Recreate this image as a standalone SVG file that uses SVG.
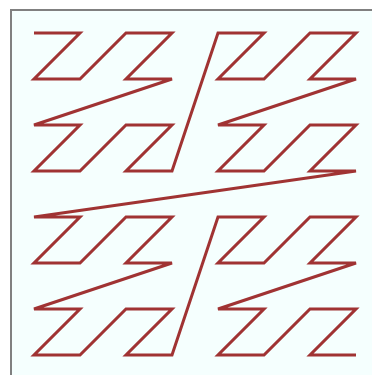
<svg xmlns="http://www.w3.org/2000/svg" width="372" height="375" viewBox="0 0 372 375">
<style>
.frame{fill:#f5fffe;stroke:#808080;stroke-width:2}
.curve{fill:none;stroke:#a03333;stroke-width:3;stroke-linejoin:miter;stroke-miterlimit:4}
</style>
<rect class="frame" x="11" y="10" width="380" height="380"/>
<g id="connectors">
<polyline id="z-curve" class="curve" points="34,33 80,33 34,79 80,79 126,33 172,33 126,79 172,79 34,125 80,125 34,171 80,171 126,125 172,125 126,171 172,171 218,33 264,33 218,79 264,79 310,33 356,33 310,79 356,79 218,125 264,125 218,171 264,171 310,125 356,125 310,171 356,171 34,217 80,217 34,263 80,263 126,217 172,217 126,263 172,263 34,309 80,309 34,355 80,355 126,309 172,309 126,355 172,355 218,217 264,217 218,263 264,263 310,217 356,217 310,263 356,263 218,309 264,309 218,355 264,355 310,309 356,309 310,355 356,355"/>
</g>
</svg>
